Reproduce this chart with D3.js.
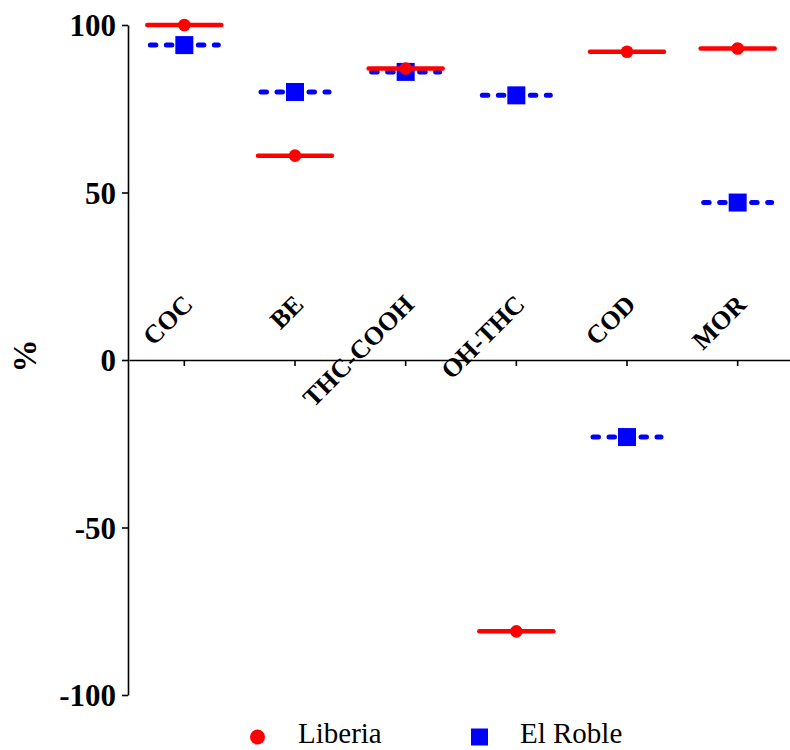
<!DOCTYPE html>
<html lang="en">
<head>
<meta charset="utf-8">
<title>Liberia vs El Roble</title>
<script src="https://cdn.jsdelivr.net/npm/d3@7/dist/d3.min.js"></script>
<style>
  body { margin: 0; background: #fff; }
  svg text { font-family: "Liberation Serif", "Times New Roman", serif; }
</style>
</head>
<body>
<svg id="chart" width="790" height="750"></svg>
<script>
// data
var categories = ['COC', 'BE', 'THC-COOH', 'OH-THC', 'COD', 'MOR'];
var liberia   = [100, 61, 87, -81, 92, 93];
var elRoble   = [94, 80, 86, 79, -23, 47];
var yTicks    = [-100, -50, 0, 50, 100];

var svg = d3.select('#chart');

var x = d3.scaleBand().domain(categories).range([129, 793]);
var y = d3.scaleLinear().domain([-100, 100]).range([695, 25]);

// y axis
var yAxis = svg.append('g')
    .attr('transform', 'translate(128,0)')
    .call(d3.axisLeft(y).tickValues(yTicks).tickFormat(function(d) { return String(d); })
        .tickSize(6).tickSizeOuter(0).tickPadding(6));
yAxis.select('.domain').attr('stroke', '#000').attr('stroke-width', 1.6);
yAxis.selectAll('.tick line').attr('stroke', '#000').attr('stroke-width', 1.6);
yAxis.selectAll('.tick text')
    .attr('font-family', '"Liberation Serif", serif')
    .attr('font-size', 31)
    .attr('font-weight', 'bold')
    .attr('fill', '#000')
    .attr('dy', '0.34em');

// x axis sits on zero
var xAxis = svg.append('g')
    .attr('transform', 'translate(0,' + y(0) + ')')
    .call(d3.axisBottom(x).tickSize(6).tickSizeOuter(0));
xAxis.select('.domain').attr('stroke', '#000').attr('stroke-width', 1.6);
xAxis.selectAll('.tick line').attr('stroke', '#000').attr('stroke-width', 1.6);
xAxis.selectAll('.tick text').remove();

// category labels, tilted, above the zero line
svg.append('g').selectAll('text')
    .data(categories)
    .enter().append('text')
    .attr('transform', function(d) {
        return 'translate(' + (x(d) + x.bandwidth() / 2 + 10) + ',' + (y(0) - 54) + ') rotate(-45)';
    })
    .attr('text-anchor', 'end')
    .attr('font-size', 26)
    .attr('font-weight', 'bold')
    .text(function(d) { return d; });

// y label
svg.append('text')
    .attr('transform', 'translate(36,356) rotate(-90)')
    .attr('text-anchor', 'middle')
    .attr('font-size', 33)
    .attr('font-weight', 'bold')
    .text('%');

// El Roble: dashed blue line + square
var blue = '#0000ff', red = '#ff0000';
var gB = svg.append('g');
gB.selectAll('line')
    .data(elRoble)
    .enter().append('line')
    .attr('x1', function(d, i) { return x(categories[i]) + x.bandwidth() / 2 - 34; })
    .attr('x2', function(d, i) { return x(categories[i]) + x.bandwidth() / 2 + 34; })
    .attr('y1', function(d) { return y(d); })
    .attr('y2', function(d) { return y(d); })
    .attr('stroke', blue)
    .attr('stroke-width', 5)
    .attr('stroke-linecap', 'round')
    .attr('stroke-dasharray', '5.5,10.5');
gB.selectAll('rect')
    .data(elRoble)
    .enter().append('rect')
    .attr('x', function(d, i) { return x(categories[i]) + x.bandwidth() / 2 - 9; })
    .attr('y', function(d) { return y(d) - 9; })
    .attr('width', 18)
    .attr('height', 18)
    .attr('fill', blue);

// Liberia: solid red line + circle
var gR = svg.append('g');
gR.selectAll('line')
    .data(liberia)
    .enter().append('line')
    .attr('x1', function(d, i) { return x(categories[i]) + x.bandwidth() / 2 - 37; })
    .attr('x2', function(d, i) { return x(categories[i]) + x.bandwidth() / 2 + 37; })
    .attr('y1', function(d) { return y(d); })
    .attr('y2', function(d) { return y(d); })
    .attr('stroke', red)
    .attr('stroke-width', 4.5)
    .attr('stroke-linecap', 'round');
gR.selectAll('circle')
    .data(liberia)
    .enter().append('circle')
    .attr('cx', function(d, i) { return x(categories[i]) + x.bandwidth() / 2; })
    .attr('cy', function(d) { return y(d); })
    .attr('r', 6.3)
    .attr('fill', red);

// legend
var legend = svg.append('g');
legend.append('circle').attr('cx', 257.5).attr('cy', 737).attr('r', 7.5).attr('fill', red);
legend.append('text').attr('x', 298).attr('y', 743).attr('font-size', 29).text('Liberia');
legend.append('rect').attr('x', 471).attr('y', 728.5).attr('width', 17).attr('height', 17).attr('fill', blue);
legend.append('text').attr('x', 520).attr('y', 743).attr('font-size', 29).text('El Roble');
</script>
</body>
</html>
